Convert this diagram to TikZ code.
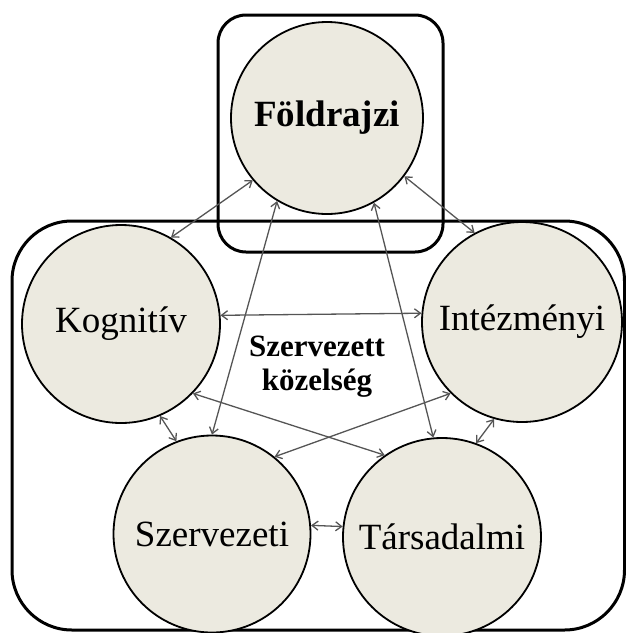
\documentclass[tikz,border=0pt]{standalone}
\usepackage{fontspec}
\setmainfont{Liberation Serif}
\usetikzlibrary{arrows.meta}
\definecolor{discfill}{RGB}{236,234,224}
\definecolor{linkgray}{RGB}{85,85,85}
\tikzset{
  disc/.style={circle, draw=black, line width=1.8pt, fill=discfill,
    inner sep=0pt, minimum size=#1, font=\fontsize{37}{40}\selectfont},
  frame/.style={draw=black, line width=3pt},
  link/.style={draw=linkgray, line width=1.3pt,
    {Straight Barb[length=6pt,width=9pt]}-{Straight Barb[length=6pt,width=9pt]}}
}
\begin{document}
\begin{tikzpicture}[x=1pt,y=-1pt]
  \useasboundingbox (0,0) rectangle (626,633);
  % outer group and the frame around the top circle
  \draw[frame, rounded corners=60pt] (12,221) rectangle (624.5,630);
  \draw[frame, rounded corners=28pt] (218,15) rectangle (443,252);
  % the five kinds of proximity
  \node[disc=192pt, font=\fontsize{37}{40}\selectfont\bfseries] (geo) at (327,118) {Földrajzi};
  \node[disc=198pt] (kog) at (121,324) {Kognitív};
  \node[disc=200pt] (inst) at (522,322) {Intézményi};
  \node[disc=197pt] (org) at (212,534) {Szervezeti};
  \node[disc=198pt] (soc) at (442,537) {Társadalmi};
  \node[align=center, font=\fontsize{31}{34}\selectfont\bfseries] (szerv) at (317,367) {Szervezett\\közelség};
  % two-way links
  \draw[link] (geo.220) -- (kog.60);
  \draw[link] (geo.323) -- (inst.118);
  \draw[link] (geo.239) -- (org.90);
  \draw[link] (geo.299) -- (soc.95);
  \draw[link] (kog.5) -- (inst.175);
  \draw[link] (kog.316) -- (soc.125);
  \draw[link] (inst.225) -- (org.51);
  \draw[link] (kog.293) -- (org.111);
  \draw[link] (inst.254) -- (soc.70);
  \draw[link] (org.5) -- (soc.174);
\end{tikzpicture}
\end{document}
